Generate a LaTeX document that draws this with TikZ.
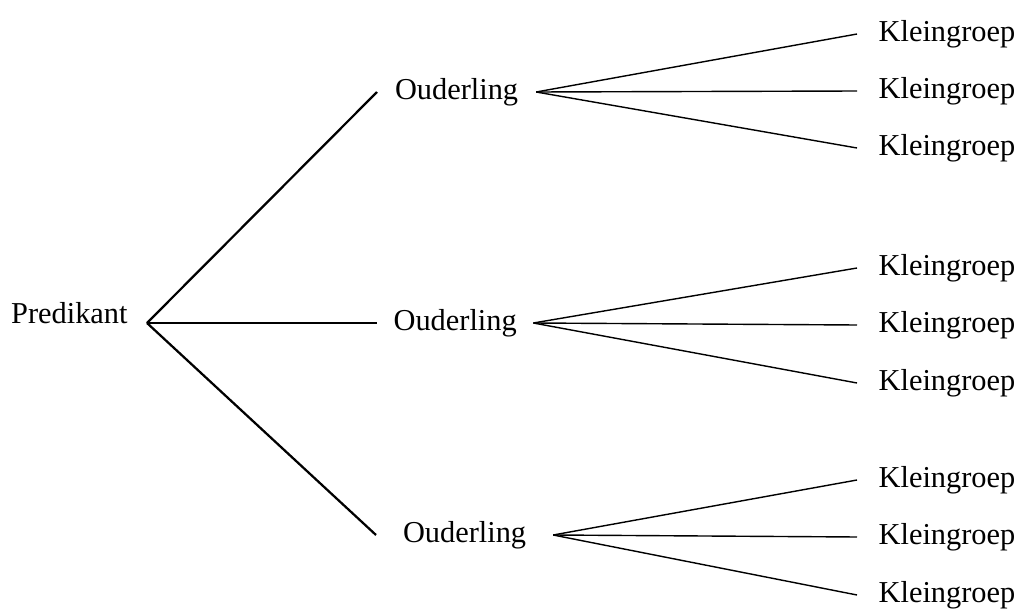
\documentclass[tikz,border=0pt]{standalone}
\usepackage{fontspec}
\setmainfont{Liberation Serif}
\usepackage{tikz}

\begin{document}
\begin{tikzpicture}[x=0.0125cm, y=-0.0125cm,
  every node/.style={font=\fontsize{10.8}{13}\selectfont, inner ysep=0pt},
  oud/.style={anchor=west, inner xsep=0pt},
  groep/.style={anchor=west, inner xsep=7.5pt},
  tak/.style={line width=0.8pt},
  twijg/.style={line width=0.5pt}]
\useasboundingbox (0,0) rectangle (1020,612);

\node[anchor=base east, inner xsep=6.7pt] (pred) at (147,323) {Predikant};

\node[oud, minimum width=1.975cm] (oud1) at (377,92) {Ouderling};
\node[oud, minimum width=1.94cm] (oud2) at (377,323) {Ouderling};
\node[oud, minimum width=2.2cm] (oud3) at (376,535) {Ouderling};

\node[groep] (klein11) at (857,34) {Kleingroep};
\node[groep] (klein12) at (857,91) {Kleingroep};
\node[groep] (klein13) at (857,148) {Kleingroep};
\node[groep] (klein21) at (857,268) {Kleingroep};
\node[groep] (klein22) at (857,325) {Kleingroep};
\node[groep] (klein23) at (857,383) {Kleingroep};
\node[groep] (klein31) at (857,480) {Kleingroep};
\node[groep] (klein32) at (857,537) {Kleingroep};
\node[groep] (klein33) at (857,595) {Kleingroep};

\draw[tak] (pred.base east) -- (oud1.west);
\draw[tak] (pred.base east) -- (oud2.west);
\draw[tak] (pred.base east) -- (oud3.west);

\draw[twijg] (oud1.east) -- (klein11.west);
\draw[twijg] (oud1.east) -- (klein12.west);
\draw[twijg] (oud1.east) -- (klein13.west);
\draw[twijg] (oud2.east) -- (klein21.west);
\draw[twijg] (oud2.east) -- (klein22.west);
\draw[twijg] (oud2.east) -- (klein23.west);
\draw[twijg] (oud3.east) -- (klein31.west);
\draw[twijg] (oud3.east) -- (klein32.west);
\draw[twijg] (oud3.east) -- (klein33.west);
\end{tikzpicture}
\end{document}
